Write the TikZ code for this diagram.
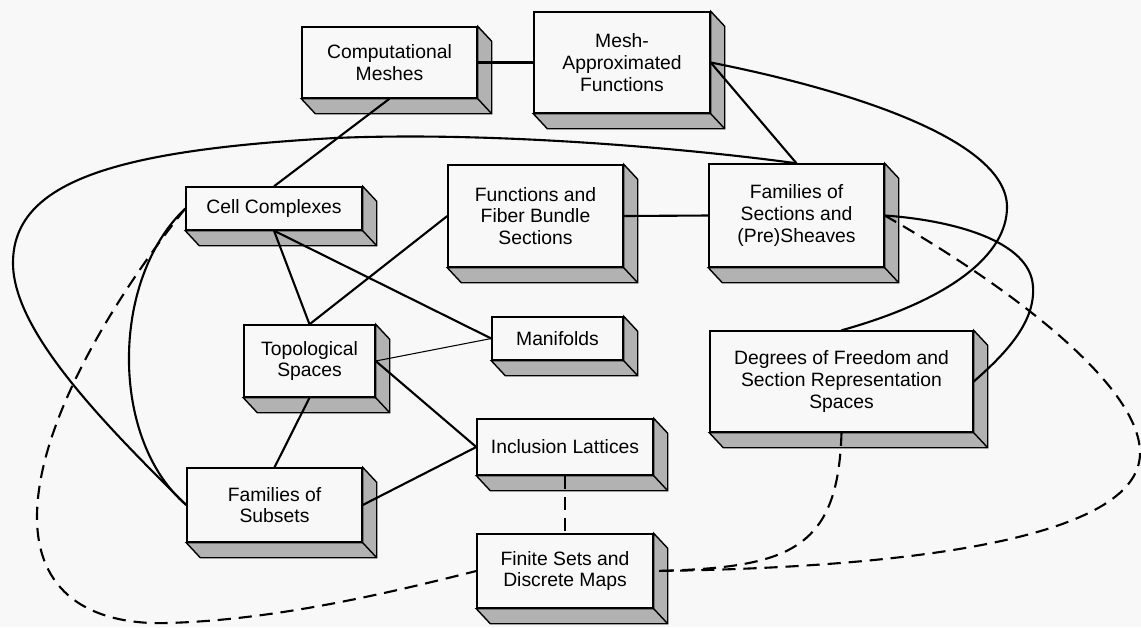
\documentclass[tikz,border=0pt]{standalone}
\usepackage{fontspec}
\setmainfont{Liberation Sans}
\usetikzlibrary{calc}
\definecolor{bg}{RGB}{248,248,248}
\definecolor{shadegray}{RGB}{178,178,178}
\tikzset{
  box/.style 2 args={draw=black, line width=0.8pt, fill=bg,
    minimum width=#1*0.02cm, minimum height=#2*0.02cm, inner sep=0pt,
    align=center, font=\fontsize{11}{12.4}\selectfont},
  extrude/.style={fill=shadegray, draw=black, line width=0.8pt, line join=miter},
  link/.style={line width=1.2pt},
  thinlink/.style={line width=0.6pt},
  dlink/.style={line width=1.2pt, dash pattern=on 7.5pt off 4.5pt},
}
\begin{document}
\begin{tikzpicture}[x=0.02cm,y=-0.02cm]
\fill[bg] (0,0) rectangle (1141,627);
\useasboundingbox (0,0) rectangle (1141,627);

% boxes (front faces)
\node[box={175}{71}]  (cm)  at (389.5,62.5) {Computational\\Meshes};
\node[box={176}{101}] (maf) at (622,62.5)   {Mesh-\\Approximated\\Functions};
\node[box={176}{43}]  (cc)  at (274,208.5)  {Cell Complexes};
\node[box={175}{102}] (ffb) at (535.5,216)  {Functions and\\Fiber Bundle\\Sections};
\node[box={175}{103}] (fs)  at (796.5,215.5) {Families of\\Sections and\\(Pre)Sheaves};
\node[box={131}{72}]  (top) at (309.5,361)  {Topological\\Spaces};
\node[box={131}{43}]  (man) at (557.5,338.5) {Manifolds};
\node[box={263}{101}] (dof) at (841.5,381.5) {Degrees of Freedom and\\Section Representation\\Spaces};
\node[box={176}{56}]  (il)  at (565,447)    {Inclusion Lattices};
\node[box={175}{74}]  (sub) at (274.5,505)  {Families of\\Subsets};
\node[box={176}{74}]  (fin) at (565,571)    {Finite Sets and\\Discrete Maps};

% 3D extrusions
\foreach \n in {cm,maf,cc,ffb,fs,top,man,dof,il,sub,fin}{
  \filldraw[extrude] (\n.south west) -- ++(14,15) -- ($(\n.south east)+(14,15)$)
     -- ($(\n.north east)+(14,15)$) -- (\n.north east) -- (\n.south east) -- cycle;
  \draw[line width=0.8pt] (\n.south east) -- ++(14,15);
}

% straight connectors
\draw[link] (cm.east) -- (maf.west);
\draw[link] (cm.south) -- (cc.north);
\draw[link] (maf.east) -- (fs.north);
\draw[link] (ffb.east) -- (fs.west);
\draw[link] (cc.south) -- (top.north);
\draw[link] (cc.south) -- (man.west);
\draw[link] (top.north) -- (ffb.west);
\draw[thinlink] (top.east) -- (man.west);
\draw[link] (top.east) -- (il.west);
\draw[link] (top.south) -- (sub.north);
\draw[link] (sub.east) -- (il.west);
\draw[dlink] (il.south) -- (fin.north);

% curved connectors
\draw[link] (sub.west) .. controls (100,420) and (13,330) .. (13,263)
   .. controls (13,180) and (120,150) .. (335,138)
   .. controls (500,131) and (700,150) .. (fs.north);
\draw[link] (cc.west) .. controls (110,280) and (110,440) .. (sub.west);
\draw[dlink] (cc.west) .. controls (120,290) and (37,420) .. (37,517)
   .. controls (37,600) and (100,625) .. (167,623)
   .. controls (280,620) and (400,590) .. (fin.west);
\draw[link] (maf.east) .. controls (850,90) and (1007,140) .. (1007,207)
   .. controls (1007,255) and (950,300) .. (dof.north);
\draw[link] (dof.east) .. controls (1010,350) and (1035,320) .. (1033,287)
   .. controls (1031,240) and (950,220) .. (fs.east);
\draw[dlink] (fs.east) .. controls (990,275) and (1140,380) .. (1140,453)
   .. controls (1140,540) and (900,568) .. (fin.east);
\draw[dlink] (dof.south) .. controls (838,550) and (790,568) .. (fin.east);
\end{tikzpicture}
\end{document}
